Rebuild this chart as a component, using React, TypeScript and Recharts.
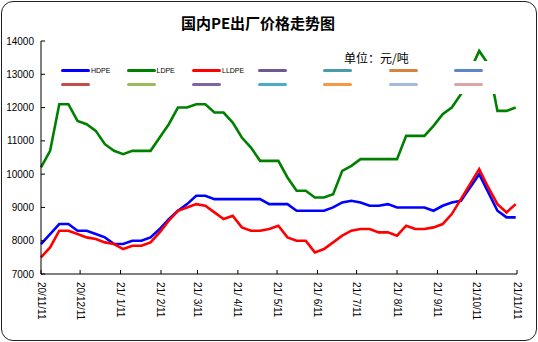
import { LineChart, Line, XAxis, YAxis, Legend } from 'recharts'

// weekly quotes, yy/mm/dd
const DATES = [
  '20/11/11', '20/11/18', '20/11/25', '20/12/02', '20/12/09', '20/12/16', '20/12/23', '20/12/30',
  '21/01/06', '21/01/13', '21/01/20', '21/01/27', '21/02/03', '21/02/10', '21/02/17', '21/02/24',
  '21/03/03', '21/03/10', '21/03/17', '21/03/24', '21/03/31', '21/04/07', '21/04/14', '21/04/21',
  '21/04/28', '21/05/05', '21/05/12', '21/05/19', '21/05/26', '21/06/02', '21/06/09', '21/06/16',
  '21/06/23', '21/06/30', '21/07/07', '21/07/14', '21/07/21', '21/07/28', '21/08/04', '21/08/11',
  '21/08/18', '21/08/25', '21/09/01', '21/09/08', '21/09/15', '21/09/22', '21/09/29', '21/10/06',
  '21/10/13', '21/10/20', '21/10/27', '21/11/03', '21/11/10'
]

const HDPE = [
  7900, 8200, 8500, 8500, 8300, 8300, 8200, 8100, 7900, 7900, 8000, 8000, 8100,
  8350, 8650, 8900, 9100, 9350, 9350, 9250, 9250, 9250, 9250, 9250, 9250, 9100,
  9100, 9100, 8900, 8900, 8900, 8900, 9000, 9150, 9200, 9150, 9050, 9050, 9100,
  9000, 9000, 9000, 9000, 8900, 9050, 9150, 9200, 9600, 10000, 9450, 8900, 8700, 8700
]

const LDPE = [
  10200, 10700, 12100, 12100, 11600, 11500, 11300, 10900, 10700, 10600, 10700, 10700, 10700,
  11100, 11500, 12000, 12000, 12100, 12100, 11850, 11850, 11550, 11100, 10800, 10400, 10400,
  10400, 9900, 9500, 9500, 9300, 9300, 9400, 10100, 10250, 10450, 10450, 10450, 10450,
  10450, 11150, 11150, 11150, 11450, 11800, 12000, 12400, 13100, 13700, 13300, 11900, 11900, 12000
]

const LLDPE = [
  7500, 7800, 8300, 8300, 8200, 8100, 8050, 7950, 7900, 7750, 7850, 7850, 7950,
  8250, 8600, 8900, 9000, 9100, 9050, 8850, 8650, 8750, 8400, 8300, 8300, 8350,
  8450, 8100, 8000, 8000, 7650, 7750, 7950, 8150, 8300, 8350, 8350, 8250, 8250,
  8150, 8450, 8350, 8350, 8400, 8500, 8800, 9250, 9700, 10150, 9600, 9100, 8850, 9100
]

const TICK_LABELS = [
  '20/11/11', '20/12/11', '21/ 1/11', '21/ 2/11', '21/ 3/11', '21/ 4/11', '21/ 5/11',
  '21/ 6/11', '21/ 7/11', '21/ 8/11', '21/ 9/11', '21/10/11', '21/11/11'
]

const Y_TICKS = [7000, 8000, 9000, 10000, 11000, 12000, 13000, 14000]

// empty series left over in the legend
const EXTRA_LEGEND_COLORS = [
  '#6f5791', '#4a9aae', '#d5843f', '#5b88c4',
  '#c0504d', '#9bbb59', '#8064a2', '#4bacc6', '#f79646', '#a5b9da', '#dda5a4'
]

const FONT = '"Liberation Sans", Arial, sans-serif'
const CJK = '"Noto Sans CJK SC", sans-serif'

const toDay = (s: string) => {
  const [yy, mm, dd] = s.split('/').map(p => parseInt(p.trim(), 10))
  return Date.UTC(2000 + yy, mm - 1, dd) / 86400000
}

const data = DATES.map((d, i) => ({
  t: toDay(d),
  HDPE: HDPE[i],
  LDPE: LDPE[i],
  LLDPE: LLDPE[i]
}))

const xTicks = TICK_LABELS.map(toDay)
const labelByDay: Record<number, string> = {}
TICK_LABELS.forEach(l => { labelByDay[toDay(l)] = l })

const XTick = ({ x, y, payload }: any) => (
  <g>
    <line x1={x} x2={x} y1={y} y2={y - 4} stroke="#000" />
    <text
      x={x}
      y={y}
      dx={8}
      transform={`rotate(90 ${x} ${y})`}
      dominantBaseline="central"
      fontSize={10}
      fontFamily={FONT}
      fill="#000"
    >
      {labelByDay[payload.value]}
    </text>
  </g>
)

const YTick = ({ x, y, payload }: any) => (
  <g>
    <line x1={x} x2={x + 4} y1={y} y2={y} stroke="#000" />
    <text x={x - 7} y={y} textAnchor="end" dominantBaseline="central" fontSize={10} fontFamily={FONT} fill="#000">
      {payload.value}
    </text>
  </g>
)

const renderLegend = ({ payload }: any) => {
  const items = [
    ...(payload || []).map((p: any) => ({ name: p.value, color: p.color })),
    ...EXTRA_LEGEND_COLORS.map(c => ({ name: '', color: c }))
  ]
  return (
    <div style={{ position: 'relative', width: 455, height: 33, background: '#fff' }}>
      {items.map((it, i) => (
        <div
          key={i}
          style={{
            position: 'absolute',
            left: 11 + (i % 7) * 65.5,
            top: i < 7 ? 6.5 : 20.5,
            height: 5,
            display: 'flex',
            alignItems: 'center'
          }}
        >
          <span style={{ display: 'inline-block', width: 29, height: 3, borderRadius: 1.5, background: it.color }} />
          <span style={{ fontSize: 7, lineHeight: '7px', marginLeft: 1, fontFamily: FONT, color: '#000' }}>{it.name}</span>
        </div>
      ))}
    </div>
  )
}

export default function App() {
  return (
    <div style={{ position: 'absolute', left: 0, top: 0, width: 538, height: 342, background: '#fff' }}>
      <LineChart width={538} height={342} data={data} margin={{ top: 41, right: 21, bottom: 0, left: 0 }}>
        <XAxis
          dataKey="t"
          type="number"
          domain={[xTicks[0], xTicks[xTicks.length - 1]]}
          ticks={xTicks}
          interval={0}
          height={68}
          axisLine={{ stroke: '#000' }}
          tickLine={false}
          tickSize={0}
          tickMargin={0}
          tick={<XTick />}
        />
        <YAxis
          type="number"
          domain={[7000, 14000]}
          ticks={Y_TICKS}
          interval={0}
          width={41}
          axisLine={{ stroke: '#000' }}
          tickLine={false}
          tickSize={0}
          tickMargin={0}
          tick={<YTick />}
        />
        <Line type="linear" dataKey="HDPE" stroke="#0000ff" strokeWidth={2.6} dot={false} isAnimationActive={false} />
        <Line type="linear" dataKey="LDPE" stroke="#008000" strokeWidth={2.6} dot={false} isAnimationActive={false} />
        <Line type="linear" dataKey="LLDPE" stroke="#ff0000" strokeWidth={2.6} dot={false} isAnimationActive={false} />
        <Legend
          layout="vertical"
          align="center"
          verticalAlign="middle"
          content={renderLegend}
          wrapperStyle={{ top: 61, left: 50, width: 455, height: 33 }}
        />
      </LineChart>
      <div
        style={{
          position: 'absolute', left: 0, top: 15, width: 516, textAlign: 'center',
          fontFamily: CJK, fontWeight: 700, fontSize: 15, lineHeight: '16px', color: '#000'
        }}
      >
        国内PE出厂价格走势图
      </div>
      <div
        style={{
          position: 'absolute', left: 344, top: 51, fontFamily: CJK, fontSize: 12,
          lineHeight: '13px', color: '#000'
        }}
      >
        单位：元/吨
      </div>
      <div
        style={{
          position: 'absolute', left: 1, top: 1, width: 536, height: 340, boxSizing: 'border-box',
          border: '1.5px solid #222', borderRadius: 12, pointerEvents: 'none'
        }}
      />
    </div>
  )
}
